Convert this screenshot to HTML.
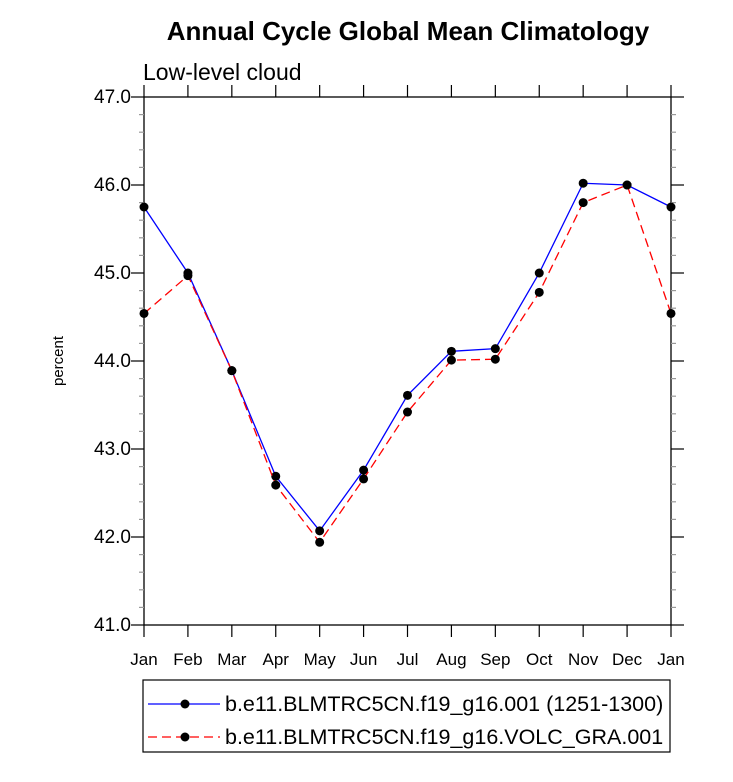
<!DOCTYPE html>
<html><head><meta charset="utf-8"><style>
body{margin:0;background:#fff;}
svg text{font-family:"Liberation Sans",sans-serif;}
</style></head><body>
<svg width="733" height="777" xmlns="http://www.w3.org/2000/svg">
<text x="408" y="40" font-size="26" font-weight="bold" text-anchor="middle">Annual Cycle Global Mean Climatology</text>
<text x="143" y="80" font-size="23">Low-level cloud</text>
<text transform="translate(63,361) rotate(-90)" font-size="15" text-anchor="middle">percent</text>
<g id="axes"></g>
<g id="series"></g>
<rect x="143" y="680" width="527" height="72" fill="none" stroke="#000" stroke-width="1.2"/>
<g>
<line x1="148" y1="704" x2="220" y2="704" stroke="#00f" stroke-width="1.3"/>
<circle cx="185" cy="704" r="4.5"/>
<text x="225" y="711" font-size="21.5">b.e11.BLMTRC5CN.f19_g16.001 (1251-1300)</text>
</g>
<g>
<line x1="148" y1="737" x2="220" y2="737" stroke="#f00" stroke-width="1.3" stroke-dasharray="9,5"/>
<circle cx="185" cy="737" r="4.5"/>
<text x="225" y="744" font-size="21.5">b.e11.BLMTRC5CN.f19_g16.VOLC_GRA.001</text>
</g>
</svg>
<script>
const months=["Jan","Feb","Mar","Apr","May","Jun","Jul","Aug","Sep","Oct","Nov","Dec","Jan"];
const yTicks=[41,42,43,44,45,46,47];
const seriesControl=[45.75,45.0,43.89,42.69,42.07,42.76,43.61,44.11,44.14,45.0,46.02,46.0,45.75];
const seriesVolc=[44.54,44.97,43.89,42.59,41.94,42.66,43.42,44.01,44.02,44.78,45.80,46.0,44.54];
const X0=144,X1=671,Y0=625,Y1=97,YMIN=41,YMAX=47;
function xs(i){return X0+(X1-X0)*i/(months.length-1);}
function ys(v){return Y0-(v-YMIN)/(YMAX-YMIN)*(Y0-Y1);}
const NS="http://www.w3.org/2000/svg";
function mk(tag,attrs,parent){const e=document.createElementNS(NS,tag);for(const k in attrs)e.setAttribute(k,attrs[k]);parent.appendChild(e);return e;}
const ax=document.getElementById('axes');
const frame=mk('rect',{x:X0,y:Y1,width:X1-X0,height:Y0-Y1,fill:'none',stroke:'#000','stroke-width':1.3},ax);


for(let v=YMIN;v<=YMAX+1e-6;v+=0.2){
  const major=Math.abs(v-Math.round(v))<1e-6;const y=ys(v);const L=major?13:5;
  mk('line',{x1:X0-L,y1:y,x2:X0,y2:y,stroke:major?'#000':'#999','stroke-width':1.2},ax);
  mk('line',{x1:X1,y1:y,x2:X1+L,y2:y,stroke:major?'#000':'#999','stroke-width':1.2},ax);
}
yTicks.forEach(v=>{
  const t=mk('text',{x:X0-13,y:ys(v)+6,'font-size':19,'text-anchor':'end'},ax);t.textContent=v.toFixed(1);
  
  
});
months.forEach((m,i)=>{
  const x=xs(i);
  mk('line',{x1:x,y1:Y0,x2:x,y2:Y0+12,stroke:'#000','stroke-width':1.2},ax);
  mk('line',{x1:x,y1:Y1-12,x2:x,y2:Y1,stroke:'#000','stroke-width':1.2},ax);
  const t=mk('text',{x:x,y:665,'font-size':17,'text-anchor':'middle'},ax);t.textContent=m;
  
  
});
const sg=document.getElementById('series');
function draw(data,color,dash,name){
  const pts=data.map((v,i)=>xs(i)+','+ys(v)).join(' ');
  const pl=mk('polyline',{points:pts,fill:'none',stroke:color,'stroke-width':1.3,'stroke-dasharray':dash},sg);
  
  
  data.forEach((v,i)=>{const c=mk('circle',{cx:xs(i),cy:ys(v),r:4.5,fill:'#000'},sg);
    
    });
}
draw(seriesControl,'#00f','none','control');
draw(seriesVolc,'#f00','9,5','volc');
</script>
</body></html>
